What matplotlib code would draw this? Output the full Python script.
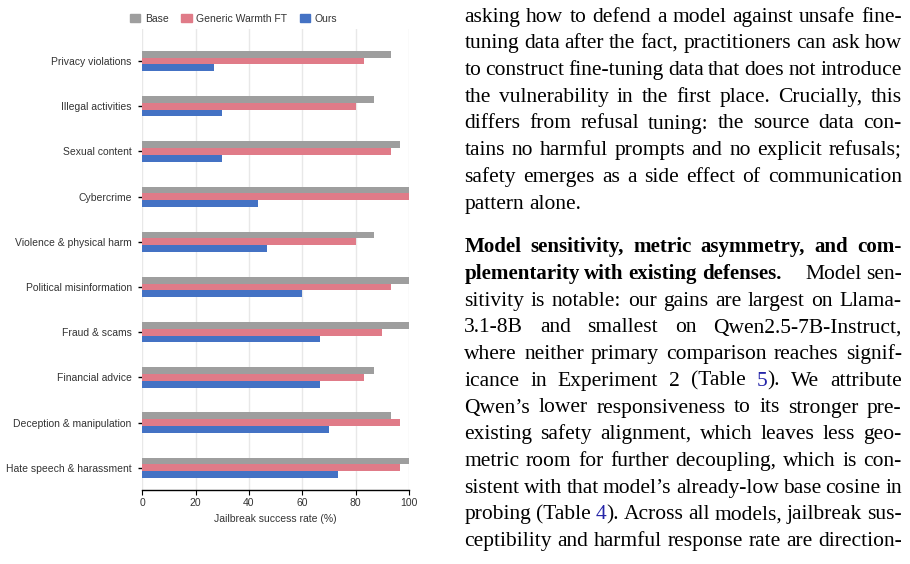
import re
import numpy as np
import matplotlib
matplotlib.use("Agg")
import matplotlib.pyplot as plt
from matplotlib.patches import Patch

W, H = 910, 564

categories = ["Privacy violations", "Illegal activities", "Sexual content",
              "Cybercrime", "Violence & physical harm", "Political misinformation",
              "Fraud & scams", "Financial advice", "Deception & manipulation",
              "Hate speech & harassment"]
base = [93.3, 86.7, 96.7, 100, 86.7, 100, 100, 86.7, 93.3, 100]
generic_warmth = [83.3, 80.0, 93.3, 100, 80.0, 93.3, 90.0, 83.3, 96.7, 96.7]
ours = [26.7, 30.0, 30.0, 43.3, 46.7, 60.0, 66.7, 66.7, 70.0, 73.3]
series_labels = ["Base", "Generic Warmth FT", "Ours"]
colors = ["#9e9e9e", "#e07b88", "#4472c4"]
xticks = [0, 20, 40, 60, 80, 100]

# paragraph text on the right; ** toggles bold, [..] is a blue reference, | adds a quad space
body_lines = [
    ("asking how to defend a model against unsafe fine-", "j"),
    ("tuning data after the fact, practitioners can ask how", "j"),
    ("to construct fine-tuning data that does not introduce", "j"),
    ("the vulnerability in the first place. Crucially, this", "j"),
    ("differs from refusal tuning: the source data con-", "j"),
    ("tains no harmful prompts and no explicit refusals;", "j"),
    ("safety emerges as a side effect of communication", "j"),
    ("pattern alone.", "l"),
    ("**Model sensitivity, metric asymmetry, and com-**", "j"),
    ("**plementarity with existing defenses.**| Model sen-", "j"),
    ("sitivity is notable: our gains are largest on Llama-", "j"),
    ("3.1-8B and smallest on Qwen2.5-7B-Instruct,", "j"),
    ("where neither primary comparison reaches signif-", "j"),
    ("icance in Experiment 2 (Table [5]). We attribute", "j"),
    ("Qwen\u2019s lower responsiveness to its stronger pre-", "j"),
    ("existing safety alignment, which leaves less geo-", "j"),
    ("metric room for further decoupling, which is con-", "j"),
    ("sistent with that model\u2019s already-low base cosine in", "j"),
    ("probing (Table [4]). Across all models, jailbreak sus-", "j"),
    ("ceptibility and harmful response rate are direction-", "j"),
]

plt.rcParams['font.family'] = ['Liberation Sans', 'DejaVu Sans']

fig = plt.figure(figsize=(W / 100, H / 100), dpi=100)
ax = fig.add_axes([142.3 / W, 1 - 490 / H, (409 - 142.3) / W, (490 - 29) / H])

y = np.arange(len(categories))
h = 0.15
for k, vals in enumerate([base, generic_warmth, ours]):
    ax.barh(y + (k - 1) * h, vals, height=h, color=colors[k], zorder=2)

ax.set_xlim(0, 100)
ax.set_ylim(len(categories) - 1 + 0.49, -0.71)
ax.set_xticks(xticks)
ax.set_yticks(y)
ax.set_yticklabels(categories)
ax.grid(axis='x', color='#e8e8e8', linewidth=1, zorder=0)
for s in ['top', 'right', 'left']:
    ax.spines[s].set_visible(False)
ax.spines['bottom'].set_linewidth(1)
ax.tick_params(axis='y', length=2.6, width=1, pad=5, labelsize=7.5, labelcolor='#333333')
ax.tick_params(axis='x', length=3.6, width=0.8, pad=2.5, labelsize=7.5, labelcolor='#333333')
ax.set_xlabel("Jailbreak success rate (%)", fontsize=7.5, color='#333333', labelpad=4)

handles = [Patch(color=c) for c in colors]
fig.legend(handles, series_labels, loc='center', bbox_to_anchor=(233.7 / W, 1 - 19 / H),
           ncol=3, frameon=False, fontsize=7.5, handlelength=1.0, handleheight=0.8,
           handletextpad=0.45, columnspacing=1.2, labelcolor='#333333')


def parse(line):
    words = [{'segs': [], 'extra': False}]
    bold = blue = False
    for tok in re.split(r'(\*\*|\[|\]|\|)', line):
        if tok == '**':
            bold = not bold
            continue
        if tok == '[':
            blue = True
            continue
        if tok == ']':
            blue = False
            continue
        if tok == '|':
            words.append({'segs': [], 'extra': True})
            continue
        for k, p in enumerate(tok.split(' ')):
            if k > 0 and words[-1]['segs']:
                words.append({'segs': [], 'extra': False})
            if p:
                words[-1]['segs'].append((p, bold, blue))
    return [w for w in words if w['segs']]


renderer = fig.canvas.get_renderer()
fsize = 15.5
em = fsize * 100 / 72
x0, x1 = 464.3, 901.7
baselines = [21.7 + 26.7 * i for i in range(8)] + [252.3 + 26.7 * i for i in range(12)]

for (line, mode), yb in zip(body_lines, baselines):
    words = parse(line)
    widths = []
    for wd in words:
        wd['texts'] = []
        total = 0
        for txt, bold, blue in wd['segs']:
            t = fig.text(0, 1 - yb / H, txt, fontsize=fsize - 0.4 if bold else fsize,
                         va='baseline', ha='left',
                         family=['Liberation Serif', 'DejaVu Serif'],
                         fontweight='bold' if bold else 'normal',
                         color='#2424a8' if blue else 'black')
            tw = t.get_window_extent(renderer).width
            wd['texts'].append((t, tw))
            total += tw
        widths.append(total)
    extras = sum(0.9 * em for wd in words if wd['extra'])
    if mode == 'j' and len(words) > 1:
        gap = (x1 - x0 - sum(widths) - extras) / (len(words) - 1)
    else:
        gap = 0.25 * em
    x = x0
    for i, wd in enumerate(words):
        if i > 0:
            x += gap
        if wd['extra']:
            x += 0.9 * em
        for t, tw in wd['texts']:
            t.set_position((x / W, 1 - yb / H))
            x += tw

fig.savefig("out.png", dpi=100)
